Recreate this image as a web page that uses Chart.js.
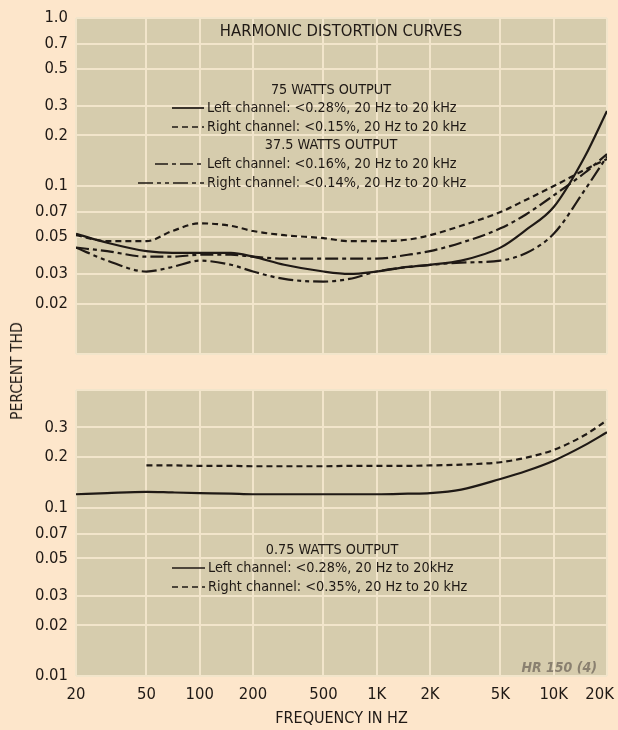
<!DOCTYPE html>
<html>
<head>
<meta charset="utf-8">
<script src="https://cdn.jsdelivr.net/npm/chart.js@4.4.1/dist/chart.umd.min.js"></script>
<style>
  html, body { margin: 0; padding: 0; background: #fde6cb; }
  #wrap { position: relative; width: 618px; height: 730px; overflow: hidden; }
  .box { position: absolute; left: 0; width: 618px; }
  #ylab { position: absolute; left: 17px; top: 371px; transform: translate(-50%, -50%) rotate(-90deg);
    white-space: nowrap; font: 15.5px 'Liberation Sans Narrow', 'DejaVu Sans Condensed', sans-serif; color: #1f1915; }
</style>
</head>
<body>
<div id="wrap">
  <div class="box" style="top:0;height:372px"><canvas id="cTop"></canvas></div>
  <div class="box" style="top:372px;height:358px"><canvas id="cBot"></canvas></div>
  <div id="ylab">PERCENT THD</div>
</div>
<script>
(function () {
  "use strict";

  // ---- values ----
  var FREQ = [20, 30, 50, 70, 100, 150, 200, 300, 500, 700, 1000, 1500, 2000, 3000, 5000, 7000, 10000, 15000, 20000];
  var L75  = [0.052, 0.046, 0.041, 0.040, 0.040, 0.040, 0.038, 0.034, 0.031, 0.030, 0.031, 0.033, 0.034, 0.036, 0.043, 0.055, 0.075, 0.15, 0.28];
  var R75  = [0.051, 0.047, 0.047, 0.054, 0.060, 0.058, 0.054, 0.051, 0.049, 0.047, 0.047, 0.048, 0.051, 0.058, 0.070, 0.083, 0.100, 0.125, 0.145];
  var L375 = [0.043, 0.041, 0.038, 0.038, 0.039, 0.039, 0.038, 0.037, 0.037, 0.037, 0.037, 0.039, 0.041, 0.046, 0.056, 0.068, 0.088, 0.12, 0.155];
  var R375 = [0.043, 0.036, 0.031, 0.033, 0.036, 0.034, 0.031, 0.028, 0.027, 0.028, 0.031, 0.033, 0.034, 0.035, 0.036, 0.040, 0.052, 0.095, 0.15];
  var L075 = [0.120, 0.122, 0.124, 0.123, 0.122, 0.121, 0.120, 0.120, 0.120, 0.120, 0.120, 0.121, 0.122, 0.128, 0.148, 0.165, 0.19, 0.235, 0.28];
  var R075 = [null, null, 0.178, 0.178, 0.177, 0.177, 0.176, 0.176, 0.176, 0.177, 0.177, 0.177, 0.178, 0.180, 0.186, 0.198, 0.22, 0.27, 0.33];

  var X_TICKS = [20, 50, 100, 200, 500, 1000, 2000, 5000, 10000, 20000];
  var X_LABELS = ["20", "50", "100", "200", "500", "1K", "2K", "5K", "10K", "20K\u2002\u2002"];
  var Y_TOP = [1, 0.7, 0.5, 0.3, 0.2, 0.1, 0.07, 0.05, 0.03, 0.02, 0.01];
  var Y_TOP_LABELS = ["1.0", "0.7", "0.5", "0.3", "0.2", "0.1", "0.07", "0.05", "0.03", "0.02", ""];
  var Y_BOT = [0.5, 0.3, 0.2, 0.1, 0.07, 0.05, 0.03, 0.02, 0.01];
  var Y_BOT_LABELS = ["", "0.3", "0.2", "0.1", "0.07", "0.05", "0.03", "0.02", "0.01"];

  var FONT = "'Liberation Sans Narrow', 'DejaVu Sans Condensed', sans-serif";
  var INK = "#1f1915";
  var PLOT_BG = "#d6ccad";
  var GRID = "#f2e5cb";

  Chart.defaults.font.family = FONT;
  Chart.defaults.color = INK;

  function pts(ys) { return FREQ.map(function (f, i) { return { x: f, y: ys[i] }; }); }
  function line(label, ys, dash) {
    return { label: label, data: pts(ys), borderColor: INK, borderWidth: 2.2, borderDash: dash,
      pointRadius: 0, fill: false, cubicInterpolationMode: "monotone", spanGaps: false };
  }

  // plot background + notes written inside the plot
  var notes = {
    id: "notes",
    beforeDraw: function (c) {
      var a = c.chartArea, ctx = c.ctx;
      ctx.save(); ctx.fillStyle = PLOT_BG;
      ctx.fillRect(a.left, a.top, a.right - a.left, a.bottom - a.top);
      ctx.restore();
    },
    afterDraw: function (c, args, o) {
      var ctx = c.ctx;
      ctx.save();
      ctx.textBaseline = "middle";
      (o.heads || []).forEach(function (h) {
        ctx.font = (h.style || "") + " " + h.size + "px " + FONT;
        ctx.fillStyle = h.color || INK;
        ctx.textAlign = h.align || "center";
        ctx.fillText(h.t, h.x, h.y);
      });
      ctx.fillStyle = INK;
      (o.rows || []).forEach(function (r) {
        var ds = c.data.datasets[r.ds];
        ctx.strokeStyle = ds.borderColor; ctx.lineWidth = 1.7;
        ctx.setLineDash(ds.borderDash || []);
        ctx.beginPath(); ctx.moveTo(r.from, r.y); ctx.lineTo(r.x - 3, r.y); ctx.stroke();
        ctx.setLineDash([]);
        ctx.font = "14.3px " + FONT; ctx.textAlign = "left";
        ctx.fillText(r.t, r.x, r.y);
      });
      ctx.restore();
    }
  };

  function yScale(min, max, ticks, labels) {
    return {
      type: "logarithmic", min: min, max: max,
      afterBuildTicks: function (s) { s.ticks = ticks.map(function (v) { return { value: v }; }); },
      afterFit: function (s) { s.width = 76; },
      ticks: { padding: 8, font: { size: 16.5 }, color: INK,
        callback: function (v) { var i = ticks.indexOf(v); return i < 0 ? "" : labels[i]; } },
      grid: { color: GRID, lineWidth: 2, drawTicks: false },
      border: { display: false }
    };
  }
  function xScale(showLabels) {
    return {
      type: "logarithmic", min: 20, max: 20000,
      afterBuildTicks: function (s) { s.ticks = X_TICKS.map(function (v) { return { value: v }; }); },
      afterFit: function (s) { s.height = showLabels ? 54 : 0; s.paddingLeft = 0; s.paddingRight = 0; },
      ticks: { display: showLabels, padding: 9, maxRotation: 0, autoSkip: false, font: { size: 16.5 }, color: INK,
        callback: function (v) { var i = X_TICKS.indexOf(v); return i < 0 ? "" : X_LABELS[i]; } },
      title: { display: showLabels, text: "FREQUENCY IN HZ", font: { size: 16 }, color: INK, padding: { top: 0, bottom: 2 } },
      grid: { color: GRID, lineWidth: 2, drawTicks: false },
      border: { display: false }
    };
  }

  new Chart(document.getElementById("cTop"), {
    type: "line",
    data: { datasets: [
      line("75 W Left", L75, []),
      line("75 W Right", R75, [6, 4]),
      line("37.5 W Left", L375, [13, 4, 4, 4]),
      line("37.5 W Right", R375, [15, 4, 4, 4, 4, 4])
    ] },
    options: {
      responsive: true, maintainAspectRatio: false, animation: false,
      layout: { padding: { top: 18, right: 11, bottom: 0, left: 0 } },
      plugins: {
        legend: { display: false }, tooltip: { enabled: false },
        notes: {
          heads: [
            { t: "HARMONIC DISTORTION CURVES", x: 341, y: 32, size: 16.5 },
            { t: "75 WATTS OUTPUT", x: 331, y: 90, size: 14.3 },
            { t: "37.5 WATTS OUTPUT", x: 331, y: 145, size: 14.3 }
          ],
          rows: [
            { ds: 0, t: "Left channel: <0.28%, 20 Hz to 20 kHz", x: 207, y: 108, from: 172 },
            { ds: 1, t: "Right channel: <0.15%, 20 Hz to 20 kHz", x: 207, y: 127, from: 172 },
            { ds: 2, t: "Left channel: <0.16%, 20 Hz to 20 kHz", x: 207, y: 164, from: 155 },
            { ds: 3, t: "Right channel: <0.14%, 20 Hz to 20 kHz", x: 207, y: 183, from: 138 }
          ]
        }
      },
      scales: { x: xScale(false), y: yScale(0.01, 1, Y_TOP, Y_TOP_LABELS) }
    },
    plugins: [notes]
  });

  new Chart(document.getElementById("cBot"), {
    type: "line",
    data: { datasets: [
      line("0.75 W Left", L075, []),
      line("0.75 W Right", R075, [6, 4])
    ] },
    options: {
      responsive: true, maintainAspectRatio: false, animation: false,
      layout: { padding: { top: 6, right: 11, bottom: 0, left: 0 } },
      plugins: {
        legend: { display: false }, tooltip: { enabled: false },
        notes: {
          heads: [
            { t: "0.75 WATTS OUTPUT", x: 332, y: 178, size: 14.3 },
            { t: "HR 150 (4)", x: 597, y: 296, size: 14, style: "italic bold", color: "#8a8070", align: "right" }
          ],
          rows: [
            { ds: 0, t: "Left channel: <0.28%, 20 Hz to 20kHz", x: 208, y: 196, from: 172 },
            { ds: 1, t: "Right channel: <0.35%, 20 Hz to 20 kHz", x: 208, y: 215, from: 172 }
          ]
        }
      },
      scales: { x: xScale(true), y: yScale(0.01, 0.5, Y_BOT, Y_BOT_LABELS) }
    },
    plugins: [notes]
  });
})();
</script>
</body>
</html>
